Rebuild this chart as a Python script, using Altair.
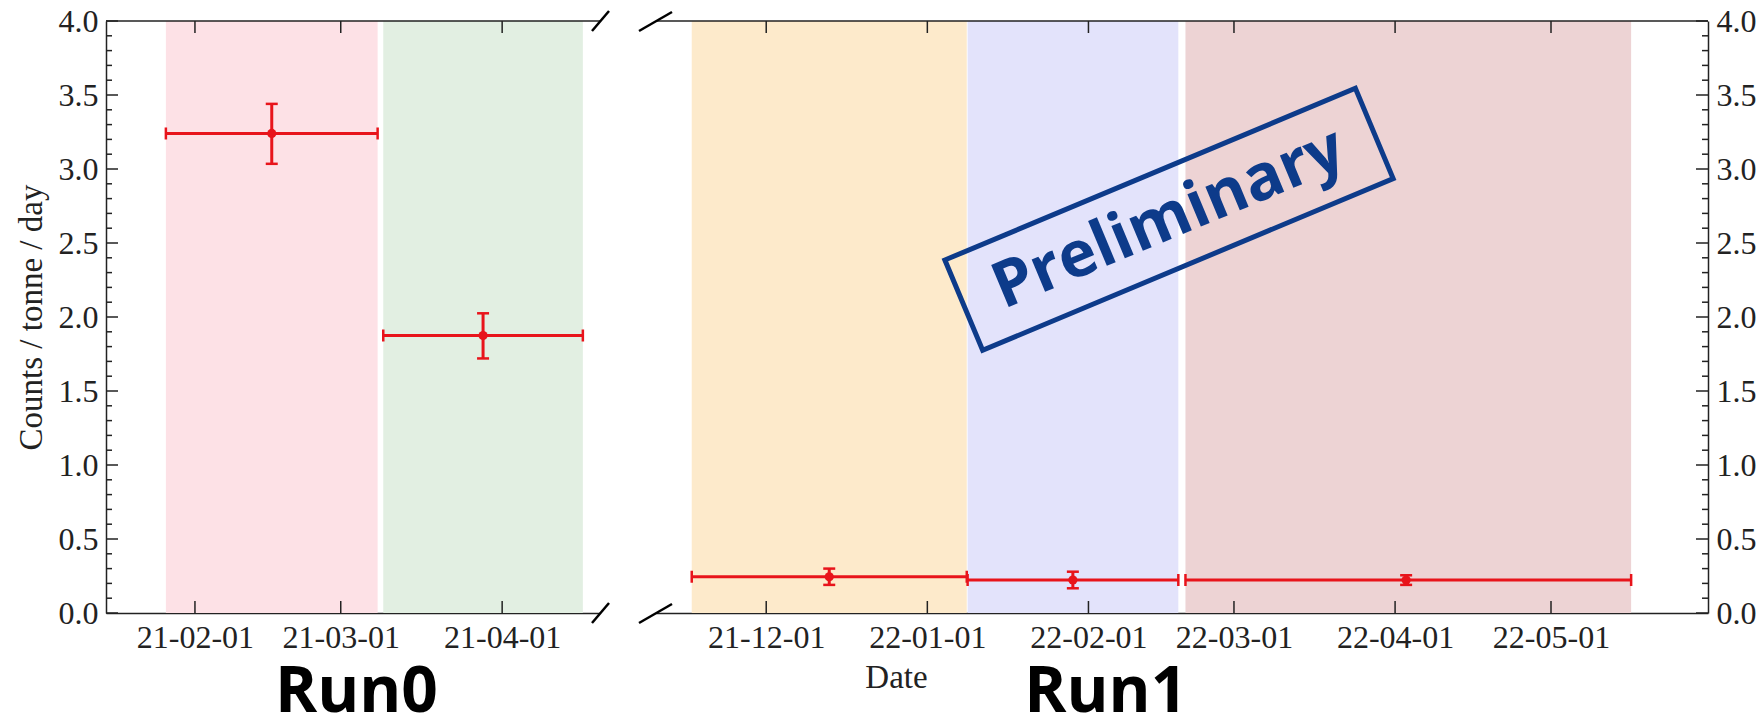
import altair as alt
import pandas as pd

# ---------------- data ----------------
run0_band = ["r0a", "r0b"]
run0_start = ["2021-01-26T10:00", "2021-03-09T04:00"]
run0_end = ["2021-03-08T02:00", "2021-04-16T12:00"]
run0_center = ["2021-02-15T18:00", "2021-03-28T08:00"]
run0_rate = [3.24, 1.875]
run0_low = [3.035, 1.72]
run0_high = [3.44, 2.025]

run1_band = ["r1a", "r1b", "r1c"]
run1_start = ["2021-11-16T16:00", "2022-01-08T18:00", "2022-02-19T16:00"]
run1_end = ["2022-01-08T14:00", "2022-02-18T07:00", "2022-05-16T10:00"]
run1_center = ["2021-12-13T03:00", "2022-01-29T00:00", "2022-04-03T03:00"]
run1_rate = [0.245, 0.223, 0.223]
run1_low = [0.19, 0.167, 0.19]
run1_high = [0.30, 0.279, 0.255]

run0_xdomain = ["2021-01-14T22:00", "2021-04-19T19:00"]
run1_xdomain = ["2021-11-09T19:00", "2022-05-31T05:00"]
run0_xticks = ["2021-02-01", "2021-03-01", "2021-04-01"]
run1_xticks = ["2021-12-01", "2022-01-01", "2022-02-01",
               "2022-03-01", "2022-04-01", "2022-05-01"]
y_major = [0.0, 0.5, 1.0, 1.5, 2.0, 2.5, 3.0, 3.5, 4.0]
y_minor = [0.1, 0.2, 0.3, 0.4, 0.6, 0.7, 0.8, 0.9, 1.1, 1.2, 1.3, 1.4,
           1.6, 1.7, 1.8, 1.9, 2.1, 2.2, 2.3, 2.4, 2.6, 2.7, 2.8, 2.9,
           3.1, 3.2, 3.3, 3.4, 3.6, 3.7, 3.8, 3.9]

run0_colors = ["#fde1e6", "#e2efe2"]
run1_colors = ["#fdeacb", "#e3e3fb", "#edd3d4"]

run_labels = ["Run0", "Run1"]
run_label_x = ["2021-03-04T00:00", "2022-02-04T08:00"]
stamp_text = "Preliminary"
stamp_x = "2022-02-16T12:00"
stamp_y = 2.66

# ---------------- styling ----------------
RED = "#e8141b"
AX = "#222222"
BLUE = "#0d3b8a"
SERIF = "Liberation Serif"
H = 592
W0 = 494
W1 = 1052


def dt(s):
    t = pd.Timestamp(s)
    return alt.DateTime(year=t.year, month=t.month, date=t.day,
                        hours=t.hour, minutes=t.minute)


def panel(band, start, end, center, rate, low, high, colors, xdomain, xticks,
          W, side, xtitle, label, label_x, stamp):
    df = pd.DataFrame({
        "band": band,
        "start": pd.to_datetime(start),
        "end": pd.to_datetime(end),
        "center": pd.to_datetime(center),
        "rate": rate, "low": low, "high": high,
    })
    xs = alt.Scale(domain=[dt(xdomain[0]), dt(xdomain[1])])
    ys = alt.Scale(domain=[0, 4], nice=False, zero=False)
    xaxis_kw = dict(
        values=[dt(v) for v in xticks], format="%y-%m-%d", orient="bottom",
        labelFont=SERIF, labelFontSize=32, labelColor=AX, labelPadding=9,
        ticks=False, tickSize=0, domain=True, domainColor=AX, domainWidth=1.5,
        grid=False, labelFlush=False, labelOverlap=False,
    )
    if xtitle:
        xaxis_kw.update(title=xtitle, titleFont=SERIF, titleFontSize=33,
                        titleFontWeight="normal", titleColor=AX,
                        titleX=240, titleY=74, titleAlign="center",
                        titleBaseline="alphabetic")
    else:
        xaxis_kw.update(title=None)
    xaxis = alt.Axis(**xaxis_kw)
    yaxis_kw = dict(
        values=y_major, format=".1f", orient=side,
        labelFont=SERIF, labelFontSize=32, labelColor=AX, labelPadding=8,
        ticks=False, tickSize=0, domain=True, domainColor=AX, domainWidth=1.5,
        grid=False, labelFlush=False, labelOverlap=False,
    )
    if side == "left":
        yaxis_kw.update(title="Counts / tonne / day", titleFont=SERIF,
                        titleFontSize=33, titleFontWeight="normal",
                        titleColor=AX, titlePadding=10)
    else:
        yaxis_kw.update(title=None)
    yaxis = alt.Axis(**yaxis_kw)

    def X(f):
        return alt.X(f, type="temporal", scale=xs, axis=xaxis)

    def Y(f):
        return alt.Y(f, type="quantitative", scale=ys, axis=yaxis)

    base = alt.Chart(df)
    bands = base.mark_rect(opacity=1).encode(
        x=X("start"), x2="end",
        y=alt.Y(datum=0, type="quantitative", scale=ys, axis=yaxis),
        y2=alt.Y2(datum=4),
        color=alt.Color("band:N", scale=alt.Scale(domain=band, range=colors),
                        legend=None),
    )
    hbar = base.mark_rule(color=RED, strokeWidth=3).encode(
        x=X("start"), x2="end", y=Y("rate"))
    vbar = base.mark_rule(color=RED, strokeWidth=3).encode(
        x=X("center"), y=Y("low"), y2="high")
    cap_l = base.mark_tick(orient="vertical", color=RED, size=12,
                           thickness=2.5, opacity=1).encode(
        x=X("start"), y=Y("rate"))
    cap_r = base.mark_tick(orient="vertical", color=RED, size=12,
                           thickness=2.5, opacity=1).encode(
        x=X("end"), y=Y("rate"))
    cap_lo = base.mark_tick(orient="horizontal", color=RED, size=12,
                            thickness=2.5, opacity=1).encode(
        x=X("center"), y=Y("low"))
    cap_hi = base.mark_tick(orient="horizontal", color=RED, size=12,
                            thickness=2.5, opacity=1).encode(
        x=X("center"), y=Y("high"))
    pts = base.mark_circle(color=RED, size=85, opacity=1).encode(
        x=X("center"), y=Y("rate"))

    # inward ticks
    x0 = 0 if side == "left" else W
    sgn = 1 if side == "left" else -1
    ymaj = alt.Chart(pd.DataFrame({"v": y_major})).mark_rule(
        color=AX, strokeWidth=1.5).encode(
        y=Y("v"), x=alt.value(x0), x2=alt.value(x0 + sgn * 12))
    ymin = alt.Chart(pd.DataFrame({"v": y_minor})).mark_rule(
        color=AX, strokeWidth=1.5).encode(
        y=Y("v"), x=alt.value(x0), x2=alt.value(x0 + sgn * 6))
    tdf = pd.DataFrame({"d": pd.to_datetime(xticks)})
    xbot = alt.Chart(tdf).mark_rule(color=AX, strokeWidth=1.5).encode(
        x=X("d"), y=alt.value(H), y2=alt.value(H - 12))
    xtop = alt.Chart(tdf).mark_rule(color=AX, strokeWidth=1.5).encode(
        x=X("d"), y=alt.value(0), y2=alt.value(12))

    one = alt.Chart(pd.DataFrame({"k": [0]}))
    spine = one.mark_rule(color=AX, strokeWidth=1.5).encode(
        x=alt.value(0), x2=alt.value(W), y=alt.value(0))
    # broken-axis marks
    bx = W if side == "left" else 0
    if side == "left":
        d1, d2 = (-8, 10), (9, -10)
    else:
        d1, d2 = (-17, 10), (16, -9)
    brk_top = one.mark_rule(color="black", strokeWidth=2.5).encode(
        x=alt.value(bx + d1[0]), x2=alt.value(bx + d2[0]),
        y=alt.value(d1[1]), y2=alt.value(d2[1]))
    brk_bot = one.mark_rule(color="black", strokeWidth=2.5).encode(
        x=alt.value(bx + d1[0]), x2=alt.value(bx + d2[0]),
        y=alt.value(H + d1[1]), y2=alt.value(H + d2[1]))

    run_txt = one.mark_text(text=label, font="Open Sans", fontSize=64,
                            fontWeight="bold", color="black",
                            baseline="alphabetic", align="center").encode(
        x=alt.X(datum=dt(label_x), type="temporal", scale=xs, axis=xaxis),
        y=alt.value(691))

    layers = [bands, hbar, vbar, cap_l, cap_r, cap_lo, cap_hi, pts,
              ymaj, ymin, xbot, xtop, spine, brk_top, brk_bot, run_txt]

    if stamp:
        box = one.mark_point(
            shape="M-1,-0.22L1,-0.22L1,0.22L-1,0.22Z", size=198000,
            angle=337.3, filled=False, stroke=BLUE, strokeWidth=5,
            opacity=1).encode(
            x=alt.X(datum=dt(stamp_x), type="temporal", scale=xs, axis=xaxis),
            y=alt.Y(datum=stamp_y, type="quantitative", scale=ys, axis=yaxis))
        txt = one.mark_text(
            text=stamp_text, angle=337.3, font="Open Sans", fontSize=64,
            fontWeight="bold", color=BLUE, align="center",
            baseline="middle").encode(
            x=alt.X(datum=dt(stamp_x), type="temporal", scale=xs, axis=xaxis),
            y=alt.Y(datum=stamp_y, type="quantitative", scale=ys, axis=yaxis))
        layers += [box, txt]

    return alt.layer(*layers).properties(width=W, height=H)


left = panel(run0_band, run0_start, run0_end, run0_center, run0_rate,
             run0_low, run0_high, run0_colors, run0_xdomain, run0_xticks,
             W0, "left", None, run_labels[0], run_label_x[0], False)
right = panel(run1_band, run1_start, run1_end, run1_center, run1_rate,
              run1_low, run1_high, run1_colors, run1_xdomain, run1_xticks,
              W1, "right", "Date", run_labels[1], run_label_x[1], True)

chart = alt.hconcat(left, right, spacing=56, bounds="flush").resolve_scale(
    x="independent", y="independent", color="independent"
).configure_view(stroke=None).properties(
    padding={"left": 15, "top": 5, "right": 0, "bottom": 0},
    background="white",
)

chart.save("out.html", embed_options={"renderer": "svg", "actions": False})
